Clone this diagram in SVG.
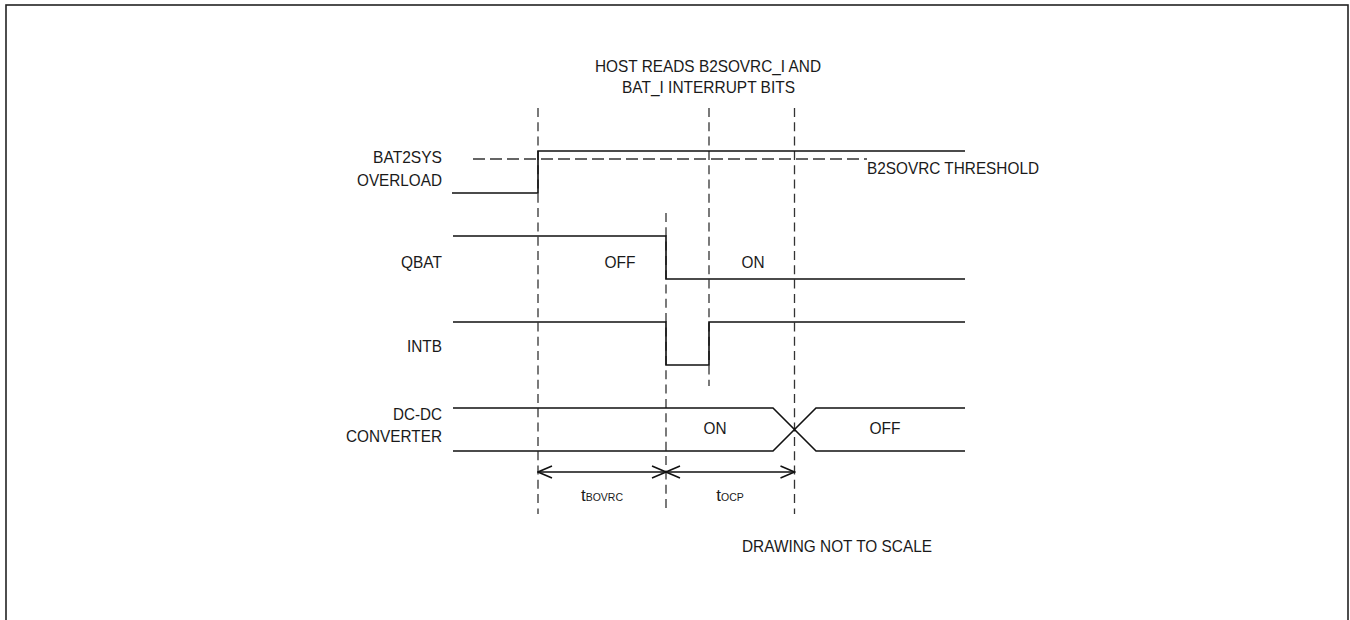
<svg xmlns="http://www.w3.org/2000/svg" width="1350" height="620" viewBox="0 0 1350 620">
<style>
text{font-family:"Liberation Sans",Arial,sans-serif;font-size:17px;fill:#1a1a1a}
.sig{fill:none;stroke:#111;stroke-width:1.6}
.vd{fill:none;stroke:#333;stroke-width:1.3;stroke-dasharray:9 5.3}
.hd{fill:none;stroke:#333;stroke-width:1.3;stroke-dasharray:12 5}
.dim{fill:none;stroke:#111;stroke-width:1.5}
.sub{font-size:10.5px}
</style>
<defs>
<marker id="ah" viewBox="0 0 16 14" refX="15" refY="7" markerWidth="16" markerHeight="14" markerUnits="userSpaceOnUse" orient="auto-start-reverse">
<path d="M1,1 L15,7 L1,13" fill="none" stroke="#111" stroke-width="1.5"/>
</marker>
</defs>
<rect x="6" y="5" width="1342" height="625" fill="#fff" stroke="#222" stroke-width="1.6"/>

<g id="guides">
<line class="vd" x1="538" y1="108" x2="538" y2="514"/>
<line class="vd" x1="709" y1="108" x2="709" y2="386"/>
<line class="vd" x1="794.5" y1="108" x2="794.5" y2="514"/>
<line class="vd" x1="666" y1="213" x2="666" y2="508"/>
<line class="hd" x1="473" y1="159" x2="867" y2="159"/>
</g>

<g id="connectors">
<line class="dim" x1="538" y1="472" x2="666" y2="472" marker-start="url(#ah)" marker-end="url(#ah)"/>
<line class="dim" x1="666" y1="472" x2="794.5" y2="472" marker-start="url(#ah)" marker-end="url(#ah)"/>
</g>

<g id="title">
<text x="595" y="72" textLength="226" lengthAdjust="spacingAndGlyphs">HOST READS B2SOVRC_I AND</text>
<text x="622" y="93" textLength="173" lengthAdjust="spacingAndGlyphs">BAT_I INTERRUPT BITS</text>
</g>

<g id="bat2sys">
<path class="sig" d="M452,193 H538 V151 H965"/>
<text x="442" y="163" text-anchor="end" textLength="69" lengthAdjust="spacingAndGlyphs">BAT2SYS</text>
<text x="442" y="186" text-anchor="end" textLength="85" lengthAdjust="spacingAndGlyphs">OVERLOAD</text>
<text x="867" y="174" textLength="172" lengthAdjust="spacingAndGlyphs">B2SOVRC THRESHOLD</text>
</g>

<g id="qbat">
<path class="sig" d="M453,236 H666 V279 H965"/>
<text x="442" y="268" text-anchor="end" textLength="41" lengthAdjust="spacingAndGlyphs">QBAT</text>
<text x="620" y="268" text-anchor="middle" textLength="31" lengthAdjust="spacingAndGlyphs">OFF</text>
<text x="753" y="268" text-anchor="middle" textLength="23" lengthAdjust="spacingAndGlyphs">ON</text>
</g>

<g id="intb">
<path class="sig" d="M453,322 H666 V365 H709 V322 H965"/>
<text x="442" y="352" text-anchor="end" textLength="35" lengthAdjust="spacingAndGlyphs">INTB</text>
</g>

<g id="dcdc">
<path class="sig" d="M453,408 H773 L816,451 H965"/>
<path class="sig" d="M453,451 H773 L816,408 H965"/>
<text x="442" y="420" text-anchor="end" textLength="49" lengthAdjust="spacingAndGlyphs">DC-DC</text>
<text x="442" y="442" text-anchor="end" textLength="96" lengthAdjust="spacingAndGlyphs">CONVERTER</text>
<text x="715" y="434" text-anchor="middle" textLength="23" lengthAdjust="spacingAndGlyphs">ON</text>
<text x="885" y="434" text-anchor="middle" textLength="31" lengthAdjust="spacingAndGlyphs">OFF</text>
</g>

<g id="timing-labels">
<text x="602" y="501" text-anchor="middle">t<tspan class="sub">BOVRC</tspan></text>
<text x="730" y="501" text-anchor="middle">t<tspan class="sub">OCP</tspan></text>
</g>

<g id="note">
<text x="742" y="552" textLength="190" lengthAdjust="spacingAndGlyphs">DRAWING NOT TO SCALE</text>
</g>
</svg>
